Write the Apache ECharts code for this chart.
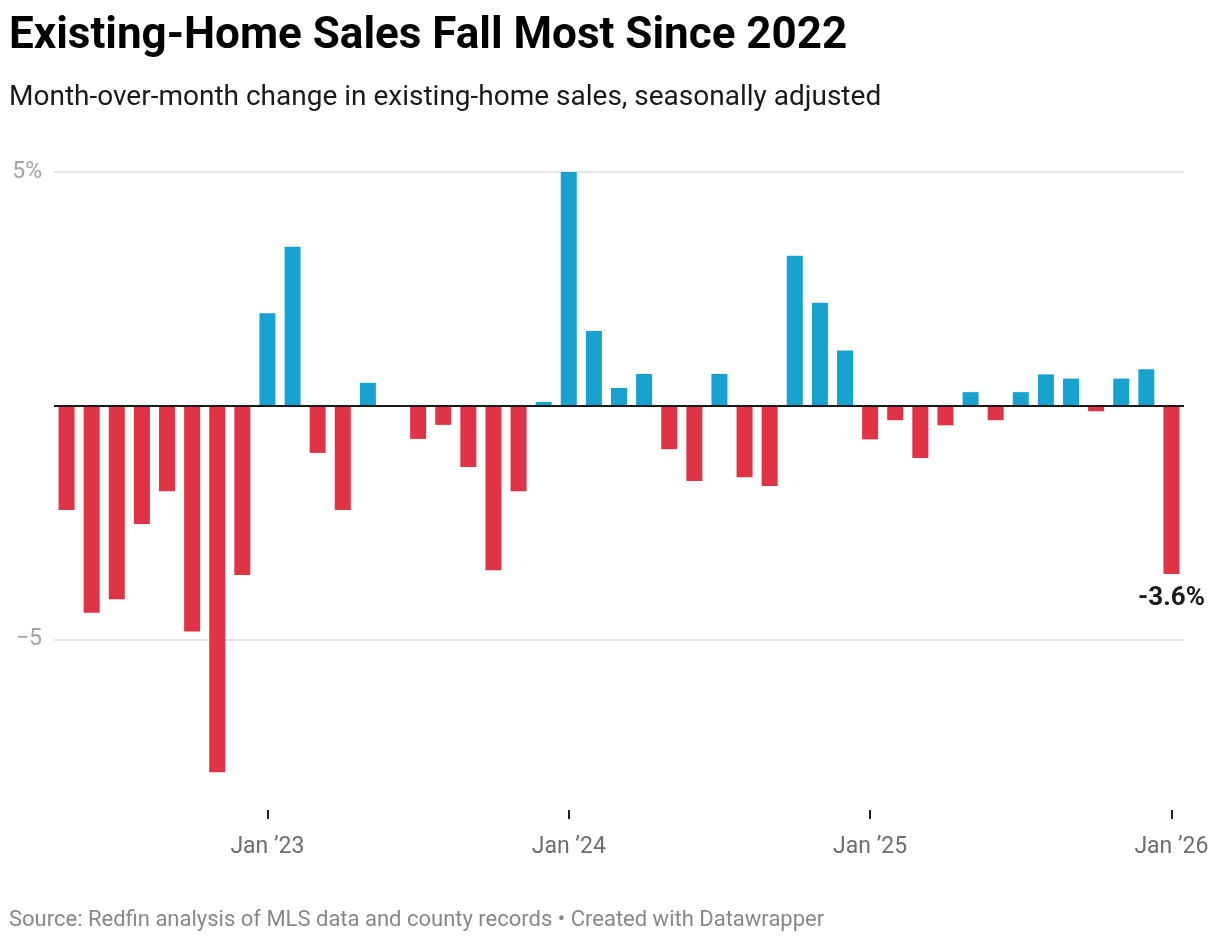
<!DOCTYPE html>
<html>
<head>
<meta charset="utf-8">
<script src="https://cdn.jsdelivr.net/npm/echarts@6/dist/echarts.min.js"></script>
<style>
html,body{margin:0;padding:0;background:#fff;}
#chart{width:1220px;height:942px;}
</style>
</head>
<body>
<div id="chart"></div>
<script>
// Months May 2022 .. Jan 2026
const months = [
  '2022-05','2022-06','2022-07','2022-08','2022-09','2022-10','2022-11','2022-12',
  '2023-01','2023-02','2023-03','2023-04','2023-05','2023-06','2023-07','2023-08','2023-09','2023-10','2023-11','2023-12',
  '2024-01','2024-02','2024-03','2024-04','2024-05','2024-06','2024-07','2024-08','2024-09','2024-10','2024-11','2024-12',
  '2025-01','2025-02','2025-03','2025-04','2025-05','2025-06','2025-07','2025-08','2025-09','2025-10','2025-11','2025-12',
  '2026-01'
];
const changes = [
  -2.23,-4.43,-4.14,-2.53,-1.83,-4.83,-7.84,-3.62,
  1.98,3.40,-1.01,-2.23,0.49,0.0,-0.71,-0.41,-1.31,-3.52,-1.83,0.08,
  5.0,1.60,0.38,0.68,-0.93,-1.61,0.68,-1.53,-1.72,3.21,2.20,1.18,
  -0.72,-0.31,-1.12,-0.42,0.29,-0.31,0.29,0.67,0.58,-0.12,0.58,0.78,
  -3.6
];
const yTicks = [5, -5];
const yTickLabels = ['5%', '\u22125'];
const highlightLabel = '-3.6%';

const isJan = (v) => v.slice(5) === '01';
const chart = echarts.init(document.getElementById('chart'));
const lastIdx = changes.length - 1;

chart.setOption({
  animation: false,
  backgroundColor: '#ffffff',
  textStyle: { fontFamily: 'Roboto' },
  title: [
    { text: 'Existing-Home Sales Fall Most Since 2022', left: 9, top: 15, padding: 0,
      textStyle: { fontFamily: 'Roboto', fontWeight: 'bold', fontSize: 44, color: '#000' } },
    { text: 'Month-over-month change in existing-home sales, seasonally adjusted', left: 9, top: 84, padding: 0,
      textStyle: { fontFamily: 'Roboto', fontWeight: 'normal', fontSize: 28, color: '#1a1a1a' } },
    { text: 'Source: Redfin analysis of MLS data and county records \u2022 Created with Datawrapper', left: 9, top: 909, padding: 0,
      textStyle: { fontFamily: 'Roboto', fontWeight: 'normal', fontSize: 22, color: '#888888' } }
  ],
  grid: { left: 54, right: 36, top: 172, bottom: 132, containLabel: false },
  xAxis: {
    type: 'category',
    data: months,
    boundaryGap: true,
    axisLine: { show: false, onZero: false },
    axisTick: { show: true, alignWithLabel: true, length: 9,
      interval: (i, v) => isJan(v),
      lineStyle: { color: '#222', width: 2 } },
    axisLabel: { interval: (i, v) => isJan(v), margin: 26,
      fontFamily: 'Roboto', fontSize: 23, color: '#6e6e6e',
      formatter: (v) => isJan(v) ? 'Jan \u2019' + v.slice(2, 4) : '' },
    splitLine: { show: false }
  },
  yAxis: {
    type: 'value', min: -8.65, max: 5,
    axisLine: { show: false }, axisTick: { show: false },
    axisLabel: { show: false }, splitLine: { show: false }
  },
  series: [
    {
      type: 'line', data: [], z: 1, silent: true,
      markLine: {
        silent: true, symbol: 'none', animation: false, z: 1,
        data: yTicks.map((t, k) => ({ yAxis: t,
          lineStyle: { color: '#e6e6e6', width: 2, type: 'solid' },
          label: { show: true, position: 'start', distance: 12, formatter: yTickLabels[k],
            fontFamily: 'Roboto', fontSize: 23, color: '#a3a3a3' } }))
      }
    },
    {
      type: 'bar',
      z: 3,
      barWidth: 16,
      data: changes.map((v, i) => ({
        value: v,
        itemStyle: { color: v >= 0 ? '#18a2cf' : '#e03446' },
        label: i === lastIdx ? { show: true, position: 'bottom', distance: 12,
          formatter: highlightLabel, fontFamily: 'Roboto', fontWeight: 'bold', fontSize: 26, color: '#1a1a1a' } : { show: false }
      })),
      markLine: {
        silent: true, symbol: 'none', animation: false,
        data: [ { yAxis: 0, lineStyle: { color: '#1a1a1a', width: 2, type: 'solid' }, label: { show: false } } ]
      }
    }
  ]
});
</script>
</body>
</html>
